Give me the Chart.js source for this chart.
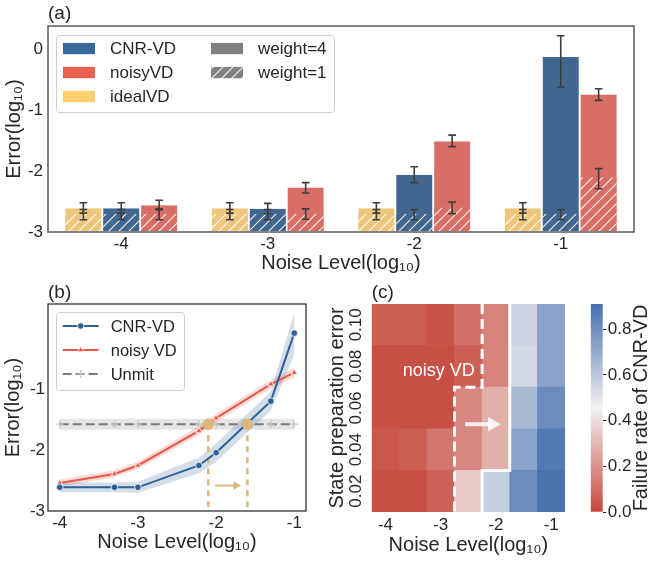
<!DOCTYPE html>
<html>
<head>
<meta charset="utf-8">
<script src="https://cdn.jsdelivr.net/npm/chart.js@4.4.1/dist/chart.umd.min.js"></script>
<style>
  body { margin: 0; background: #fff; width: 649px; height: 561px; position: relative; overflow: hidden; }
  canvas { position: absolute; }
</style>
</head>
<body>
<canvas id="barChart" width="649" height="280" style="left:0;top:0"></canvas>
<canvas id="lineChart" width="320" height="281" style="left:0;top:280px"></canvas>
<canvas id="heatChart" width="262" height="281" style="left:318px;top:280px"></canvas>
<canvas id="cbarChart" width="69" height="281" style="left:580px;top:280px"></canvas>
<script>
// ---- (a) bars: error at weight=4 (solid) and weight=1 (hatched) ----
const barGroups = ['-4', '-3', '-2', '-1'];
const idealW4 = [-2.61, -2.61, -2.61, -2.61];
const idealW1 = [-2.70, -2.70, -2.70, -2.70];
const cnrW4 = [-2.61, -2.62, -2.06, -0.13];
const cnrW1 = [-2.70, -2.70, -2.70, -2.70];
const noisyW4 = [-2.56, -2.27, -1.51, -0.745];
const noisyW1 = [-2.70, -2.70, -2.60, -2.10];
// error bar ranges [low, high]
const idealW4Err = [[-2.69, -2.52], [-2.69, -2.52], [-2.69, -2.52], [-2.69, -2.52]];
const idealW1Err = [[-2.80, -2.63], [-2.80, -2.63], [-2.80, -2.63], [-2.80, -2.63]];
const cnrW4Err = [[-2.69, -2.52], [-2.70, -2.53], [-2.19, -1.93], [-0.62, 0.22]];
const cnrW1Err = [[-2.80, -2.63], [-2.80, -2.63], [-2.80, -2.63], [-2.80, -2.63]];
const noisyW4Err = [[-2.64, -2.48], [-2.36, -2.19], [-1.60, -1.41], [-0.84, -0.65]];
const noisyW1Err = [[-2.80, -2.62], [-2.79, -2.62], [-2.70, -2.51], [-2.29, -1.96]];
const barYTicks = [-3, -2, -1, 0];

// ---- (b) lines ----
const noiseLog = [-4, -3.3, -3, -2.22, -2, -1.3, -1];
const cnrMean = [-2.61, -2.61, -2.61, -2.25, -2.04, -1.19, -0.07];
const cnrLow = [-2.69, -2.69, -2.70, -2.38, -2.19, -1.35, -0.42];
const cnrHigh = [-2.53, -2.53, -2.52, -2.12, -1.89, -1.03, 0.26];
const noisyMean = [-2.54, -2.39, -2.25, -1.68, -1.47, -0.91, -0.72];
const noisyLow = [-2.60, -2.45, -2.31, -1.75, -1.54, -0.98, -0.80];
const noisyHigh = [-2.48, -2.33, -2.19, -1.61, -1.40, -0.84, -0.64];
const unmitMean = [-1.57, -1.57, -1.57, -1.57, -1.57, -1.57, -1.57];
const unmitLow = [-1.66, -1.66, -1.66, -1.66, -1.66, -1.66, -1.66];
const unmitHigh = [-1.48, -1.48, -1.48, -1.48, -1.48, -1.48, -1.48];
const crossX = [-2.10, -1.60];
const crossY = -1.57;
const shiftArrowX = [-2.01, -1.745];
const shiftArrowY = -2.58;
const lineXTicks = [-4, -3, -2, -1];
const lineYTicks = [-3, -2, -1];

// ---- (c) heatmap: failure rate of CNR-VD ----
const heatCols = [-4, -3.5, -3, -2.5, -2, -1.5, -1];
const heatRows = [0.02, 0.04, 0.06, 0.08, 0.10];
const failRate = [
  [0.02, 0.02, 0.07, 0.35, 0.57, 0.81, 0.90],
  [0.04, 0.06, 0.12, 0.17, 0.28, 0.73, 0.87],
  [0.02, 0.02, 0.02, 0.17, 0.28, 0.65, 0.81],
  [0.02, 0.02, 0.02, 0.06, 0.16, 0.54, 0.73],
  [0.06, 0.06, 0.035, 0.11, 0.16, 0.555, 0.73]
];
const dashBorder = [[-2.25, 0.11], [-2.25, 0.07], [-2.75, 0.07], [-2.75, 0.01]];
const solidBorder = [[-1.75, 0.11], [-1.75, 0.03], [-2.25, 0.03], [-2.25, 0.01]];
const heatArrowX = [-2.56, -2.068];
const heatArrowY = 0.0522;
const heatXTicks = [-4, -3, -2, -1];
const cbarMax = 0.91;
const cbarTicks = [0, 0.2, 0.4, 0.6, 0.8];

const ink = '#262626';
const family = "'Liberation Sans', Arial, sans-serif";
Chart.defaults.font.family = family;
Chart.defaults.color = ink;

// red -> light gray -> blue
function cmap(v) {
  const lo = [198, 72, 60], mid = [242, 241, 241], hi = [69, 111, 174];
  let t = Math.max(0, Math.min(1, v / cbarMax));
  let a, b, s;
  if (t < 0.5) { a = lo; b = mid; s = t / 0.5; } else { a = mid; b = hi; s = (t - 0.5) / 0.5; }
  const c = a.map((x, i) => Math.round(x + (b[i] - x) * s));
  return `rgb(${c[0]},${c[1]},${c[2]})`;
}

function hatch(ctx, color) {
  const c = document.createElement('canvas');
  c.width = c.height = 10;
  const g = c.getContext('2d');
  g.fillStyle = color;
  g.fillRect(0, 0, 10, 10);
  g.strokeStyle = 'rgba(255,255,255,0.9)';
  g.lineWidth = 1.1;
  g.beginPath();
  g.moveTo(-1, 11); g.lineTo(11, -1);
  g.moveTo(-6, 6); g.lineTo(6, -6);
  g.moveTo(4, 16); g.lineTo(16, 4);
  g.stroke();
  return ctx.createPattern(c, 'repeat');
}

const frame = {
  id: 'frame',
  afterDatasetsDraw(chart, args, opts) {
    const {ctx, chartArea: a} = chart;
    ctx.save();
    ctx.strokeStyle = opts.color;
    ctx.lineWidth = opts.width;
    ctx.strokeRect(a.left, a.top, a.width, a.height);
    ctx.restore();
  }
};

const errorBars = {
  id: 'errorBars',
  afterDatasetsDraw(chart) {
    const {ctx} = chart;
    const y = chart.scales.y;
    ctx.save();
    ctx.strokeStyle = '#3d3d3d';
    ctx.lineWidth = 1.6;
    chart.data.datasets.forEach((ds, i) => {
      if (!ds.errors) return;
      chart.getDatasetMeta(i).data.forEach((bar, j) => {
        const yl = y.getPixelForValue(ds.errors[j][0]);
        const yh = y.getPixelForValue(ds.errors[j][1]);
        ctx.beginPath();
        ctx.moveTo(bar.x, yl); ctx.lineTo(bar.x, yh);
        ctx.moveTo(bar.x - 3.8, yl); ctx.lineTo(bar.x + 3.8, yl);
        ctx.moveTo(bar.x - 3.8, yh); ctx.lineTo(bar.x + 3.8, yh);
        ctx.stroke();
      });
    });
    ctx.restore();
  }
};

// legend box inside the plot area
const legendBox = {
  id: 'legendBox',
  afterDraw(chart, args, opts) {
    const {ctx, chartArea: a} = chart;
    const x0 = a.left + opts.left, y0 = a.top + opts.top;
    ctx.save();
    ctx.fillStyle = 'rgba(255,255,255,0.85)';
    ctx.strokeStyle = '#cfcfcf';
    ctx.lineWidth = 1;
    ctx.beginPath();
    ctx.roundRect(x0 + 0.5, y0 + 0.5, opts.width, opts.height, 3);
    ctx.fill();
    ctx.stroke();
    ctx.font = `${opts.fontSize}px ${family}`;
    ctx.textBaseline = 'middle';
    opts.items.forEach(it => {
      const x = x0 + it.col, y = y0 + it.row;
      ctx.save();
      it.symbol(ctx, x, y);
      ctx.restore();
      ctx.fillStyle = ink;
      ctx.fillText(it.label, x + opts.textGap, y + 1);
    });
    ctx.restore();
  }
};

// ================= (a) =================
const barCtx = document.getElementById('barChart').getContext('2d');
const barCol = {ideal: '#edc77c', cnr: '#41668f', noisy: '#d86f66'};
const legCol = {ideal: '#fdd06f', cnr: '#3a6a9a', noisy: '#e8604f'};

function barSet(stack, values, errors, color, hatched) {
  return {
    stack, errors,
    data: values.map(v => [-3, v]),
    backgroundColor: hatched ? hatch(barCtx, color) : color,
    borderColor: 'rgba(255,255,255,0.55)',
    borderWidth: 1
  };
}

function swatch(fill) {
  return (ctx, x, y) => { ctx.fillStyle = fill; ctx.fillRect(x, y - 5.6, 32, 11.3); };
}

new Chart(barCtx, {
  type: 'bar',
  data: {
    labels: barGroups,
    datasets: [
      barSet('ideal', idealW1, idealW1Err, barCol.ideal, true),
      barSet('cnr', cnrW1, cnrW1Err, barCol.cnr, true),
      barSet('noisy', noisyW1, noisyW1Err, barCol.noisy, true),
      barSet('ideal', idealW4, idealW4Err, barCol.ideal, false),
      barSet('cnr', cnrW4, cnrW4Err, barCol.cnr, false),
      barSet('noisy', noisyW4, noisyW4Err, barCol.noisy, false)
    ]
  },
  options: {
    responsive: false,
    animation: false,
    categoryPercentage: 0.776,
    barPercentage: 1,
    layout: {padding: {left: 0, right: 15, top: 0, bottom: 0}},
    plugins: {
      legend: {display: false},
      tooltip: {enabled: false},
      title: {display: true, text: '(a)', align: 'start', fullSize: false, color: ink,
        font: {size: 19, weight: 'normal', lineHeight: 1}, padding: {top: 4, bottom: 3}},
      frame: {color: '#5a5a5a', width: 1.5},
      legendBox: {
        left: 8, top: 9, width: 278, height: 77, fontSize: 17, textGap: 47,
        items: [
          {label: 'CNR-VD', col: 7, row: 13.5, symbol: swatch(legCol.cnr)},
          {label: 'noisyVD', col: 7, row: 37.5, symbol: swatch(legCol.noisy)},
          {label: 'idealVD', col: 7, row: 61.5, symbol: swatch(legCol.ideal)},
          {label: 'weight=4', col: 155, row: 13.5, symbol: swatch('#808080')},
          {label: 'weight=1', col: 155, row: 37.5, symbol: swatch(hatch(barCtx, '#808080'))}
        ]
      }
    },
    scales: {
      x: {
        stacked: true,
        grid: {display: false, drawTicks: false},
        border: {display: false},
        ticks: {font: {size: 17}, padding: 2},
        title: {display: true, text: 'Noise Level(log₁₀)', font: {size: 20}, padding: {top: 0, bottom: 5}},
        afterFit: s => { s.height = 48; }
      },
      y: {
        stacked: false,
        min: -3, max: 0.38,
        grid: {display: false, drawTicks: false},
        border: {display: false},
        afterBuildTicks: s => { s.ticks = barYTicks.map(v => ({value: v})); },
        ticks: {font: {size: 17}, padding: 5, callback: v => String(v)},
        title: {display: true, text: 'Error(log₁₀)', font: {size: 20}, padding: {top: 2, bottom: 0}},
        afterFit: s => { s.width = 48; }
      }
    }
  },
  plugins: [errorBars, frame, legendBox]
});

// ================= (b) =================
const blue = '#2f6095', red = '#e8584b', gray = '#7a7a7a', tan = '#ddb77a';
const pts = ys => noiseLog.map((x, i) => ({x, y: ys[i]}));
const band = (ys, fill, color) => ({
  data: pts(ys), fill, backgroundColor: color, borderWidth: 0, pointRadius: 0, order: 9
});

new Chart(document.getElementById('lineChart'), {
  type: 'line',
  data: {
    datasets: [
      band(cnrHigh, '+1', 'rgba(60,105,160,0.22)'),
      band(cnrLow, false, 'transparent'),
      band(noisyHigh, '+1', 'rgba(232,88,75,0.22)'),
      band(noisyLow, false, 'transparent'),
      band(unmitHigh, '+1', 'rgba(150,150,150,0.25)'),
      band(unmitLow, false, 'transparent'),
      {label: 'Unmit', data: pts(unmitMean), borderColor: gray, borderWidth: 2, borderDash: [9, 4],
        pointStyle: 'cross', pointRadius: 4, pointBorderColor: '#c6c6c6', pointBorderWidth: 1.2, order: 4},
      {label: 'noisy VD', data: pts(noisyMean), borderColor: red, borderWidth: 2,
        pointStyle: 'triangle', pointRadius: 3.6, pointBackgroundColor: red, pointBorderColor: '#fff',
        pointBorderWidth: 0.8, order: 3},
      {label: 'CNR-VD', data: pts(cnrMean), borderColor: blue, borderWidth: 2,
        pointStyle: 'circle', pointRadius: 3.3, pointBackgroundColor: blue, pointBorderColor: '#fff',
        pointBorderWidth: 0.8, order: 2},
      {data: crossX.map(x => ({x, y: crossY})), showLine: false, pointRadius: 5.6,
        pointBackgroundColor: tan, pointBorderWidth: 0, order: 0},
      {data: [{x: crossX[0], y: crossY}, {x: crossX[0], y: -3}], borderColor: tan, borderWidth: 2.5,
        borderDash: [6, 5], pointRadius: 0, order: 5},
      {data: [{x: crossX[1], y: crossY}, {x: crossX[1], y: -3}], borderColor: tan, borderWidth: 2.5,
        borderDash: [6, 5], pointRadius: 0, order: 5},
      {data: shiftArrowX.map(x => ({x, y: shiftArrowY})), borderColor: tan, borderWidth: 2,
        pointRadius: [0, 5], pointStyle: 'triangle', pointRotation: 90, pointBackgroundColor: tan,
        pointBorderWidth: 0, order: 5}
    ]
  },
  options: {
    responsive: false,
    animation: false,
    layout: {padding: {left: 0, right: 14, top: 0, bottom: 0}},
    plugins: {
      legend: {display: false},
      tooltip: {enabled: false},
      title: {display: true, text: '(b)', align: 'start', fullSize: false, color: ink,
        font: {size: 19, weight: 'normal', lineHeight: 1}, padding: {top: 3, bottom: 2}},
      frame: {color: '#222', width: 1.2},
      legendBox: {
        left: 8, top: 8, width: 128, height: 78, fontSize: 16.5, textGap: 48,
        items: [
          {label: 'CNR-VD', col: 6.7, row: 14, symbol: (ctx, x, y) => {
            ctx.strokeStyle = blue; ctx.lineWidth = 2;
            ctx.beginPath(); ctx.moveTo(x, y); ctx.lineTo(x + 36, y); ctx.stroke();
            ctx.fillStyle = blue; ctx.strokeStyle = '#fff'; ctx.lineWidth = 0.8;
            ctx.beginPath(); ctx.arc(x + 18, y, 3.2, 0, Math.PI * 2); ctx.fill(); ctx.stroke();
          }},
          {label: 'noisy VD', col: 6.7, row: 38, symbol: (ctx, x, y) => {
            ctx.strokeStyle = red; ctx.lineWidth = 2;
            ctx.beginPath(); ctx.moveTo(x, y); ctx.lineTo(x + 36, y); ctx.stroke();
            ctx.fillStyle = red; ctx.strokeStyle = '#fff'; ctx.lineWidth = 0.8;
            ctx.beginPath(); ctx.moveTo(x + 18, y - 3.5); ctx.lineTo(x + 21, y + 1.8);
            ctx.lineTo(x + 15, y + 1.8); ctx.closePath(); ctx.fill(); ctx.stroke();
          }},
          {label: 'Unmit', col: 6.7, row: 62, symbol: (ctx, x, y) => {
            ctx.strokeStyle = gray; ctx.lineWidth = 2; ctx.setLineDash([9, 4]);
            ctx.beginPath(); ctx.moveTo(x, y); ctx.lineTo(x + 36, y); ctx.stroke();
            ctx.setLineDash([]); ctx.strokeStyle = '#c6c6c6'; ctx.lineWidth = 1.2;
            ctx.beginPath(); ctx.moveTo(x + 14, y); ctx.lineTo(x + 22, y);
            ctx.moveTo(x + 18, y - 4); ctx.lineTo(x + 18, y + 4); ctx.stroke();
          }}
        ]
      }
    },
    scales: {
      x: {
        type: 'linear', min: -4.15, max: -0.85,
        grid: {display: false, drawTicks: false},
        border: {display: false},
        afterBuildTicks: s => { s.ticks = lineXTicks.map(v => ({value: v})); },
        ticks: {font: {size: 17}, padding: 2.5, callback: v => String(v)},
        title: {display: true, text: 'Noise Level(log₁₀)', font: {size: 20}, padding: {top: 0, bottom: 6.5}},
        afterFit: s => { s.height = 50; }
      },
      y: {
        min: -3, max: 0.41,
        grid: {display: false, drawTicks: false},
        border: {display: false},
        afterBuildTicks: s => { s.ticks = lineYTicks.map(v => ({value: v})); },
        ticks: {font: {size: 17}, padding: 3, callback: v => String(v)},
        title: {display: true, text: 'Error(log₁₀)', font: {size: 20}, padding: {top: 1, bottom: 0}},
        afterFit: s => { s.width = 48; }
      }
    }
  },
  plugins: [frame, legendBox]
});

// ================= (c) =================
const heatText = {
  id: 'heatText',
  afterDatasetsDraw(chart, args, opts) {
    const {ctx, scales: {x, y}} = chart;
    ctx.save();
    ctx.fillStyle = opts.color;
    ctx.font = `${opts.size}px ${family}`;
    ctx.textAlign = 'center';
    ctx.textBaseline = 'middle';
    ctx.fillText(opts.text, x.getPixelForValue(opts.x), y.getPixelForValue(opts.y));
    ctx.restore();
  }
};

const heatSets = heatRows.map((r, i) => ({
  type: 'bar',
  data: heatCols.map(c => ({x: c, y: [r - 0.01, r + 0.01]})),
  backgroundColor: failRate[i].map(cmap),
  borderWidth: 0,
  grouped: false,
  barPercentage: 1,
  categoryPercentage: 1,
  order: 2
}));
const toPts = path => path.map(p => ({x: p[0], y: p[1]}));

new Chart(document.getElementById('heatChart'), {
  type: 'bar',
  data: {
    datasets: [
      ...heatSets,
      {type: 'line', data: toPts(dashBorder), borderColor: '#fff', borderWidth: 3, borderDash: [10, 5],
        pointRadius: 0, order: 0},
      {type: 'line', data: toPts(solidBorder), borderColor: '#fff', borderWidth: 3,
        pointRadius: 0, order: 0},
      {type: 'line', data: heatArrowX.map(x => ({x, y: heatArrowY})), borderColor: 'rgba(255,255,255,0.85)',
        borderWidth: 4, pointRadius: [0, 8.5], pointStyle: 'triangle', pointRotation: 90,
        pointBackgroundColor: 'rgba(255,255,255,0.85)', pointBorderWidth: 0, order: 0}
    ]
  },
  options: {
    responsive: false,
    animation: false,
    layout: {padding: {left: 0, right: 15, top: 0, bottom: 0}},
    plugins: {
      legend: {display: false},
      tooltip: {enabled: false},
      title: {display: true, text: '(c)', align: 'start', fullSize: false, color: ink,
        font: {size: 19, weight: 'normal', lineHeight: 1}, padding: {top: 3, bottom: 2}},
      heatText: {text: 'noisy VD', x: -3.037, y: 0.0778, color: '#fff', size: 18}
    },
    scales: {
      x: {
        type: 'linear', min: -4.25, max: -0.75, offset: false,
        grid: {display: false, drawTicks: false},
        border: {display: false},
        afterBuildTicks: s => { s.ticks = heatXTicks.map(v => ({value: v})); },
        ticks: {font: {size: 17}, padding: 3, callback: v => String(v)},
        title: {display: true, text: 'Noise Level(log₁₀)', font: {size: 20}, padding: {top: 0, bottom: 4}},
        afterFit: s => { s.height = 49; }
      },
      y: {
        min: 0.01, max: 0.11,
        grid: {display: false, drawTicks: false},
        border: {display: false},
        afterBuildTicks: s => { s.ticks = heatRows.map(v => ({value: v})); },
        ticks: {font: {size: 17}, padding: -1.5, minRotation: 90, maxRotation: 90, crossAlign: 'center',
          autoSkip: false, callback: v => v.toFixed(2)},
        title: {display: true, text: 'State preparation error', font: {size: 20}, padding: {top: 7, bottom: 0}},
        afterFit: s => { s.width = 53.7; }
      }
    }
  },
  plugins: [heatText]
});

// ================= colorbar =================
const cbarTitle = {
  id: 'cbarTitle',
  afterDraw(chart, args, opts) {
    const {ctx, chartArea: a} = chart;
    ctx.save();
    ctx.translate(a.right + opts.offset, (a.top + a.bottom) / 2);
    ctx.rotate(-Math.PI / 2);
    ctx.fillStyle = ink;
    ctx.font = `${opts.size}px ${family}`;
    ctx.textAlign = 'center';
    ctx.textBaseline = 'middle';
    ctx.fillText(opts.text, 0, 0);
    ctx.restore();
  }
};

new Chart(document.getElementById('cbarChart'), {
  type: 'bar',
  data: {
    labels: [''],
    datasets: [{
      data: [[0, cbarMax]],
      borderWidth: 0,
      barPercentage: 1,
      categoryPercentage: 1,
      backgroundColor: c => {
        const chart = c.chart;
        if (!chart.chartArea) return 'transparent';
        const ys = chart.scales.y;
        const g = chart.ctx.createLinearGradient(0, ys.getPixelForValue(0), 0, ys.getPixelForValue(cbarMax));
        for (let k = 0; k <= 20; k++) g.addColorStop(k / 20, cmap(k / 20 * cbarMax));
        return g;
      }
    }]
  },
  options: {
    responsive: false,
    animation: false,
    layout: {padding: {left: 10.7, right: 0, top: 24, bottom: 49}},
    plugins: {
      legend: {display: false},
      tooltip: {enabled: false},
      cbarTitle: {text: 'Failure rate of CNR-VD', offset: 39, size: 20}
    },
    scales: {
      x: {display: false},
      y: {
        position: 'right',
        min: 0, max: cbarMax,
        grid: {display: true, drawOnChartArea: false, drawTicks: true, tickLength: 3.5, color: ink, lineWidth: 1},
        border: {display: false},
        afterBuildTicks: s => { s.ticks = cbarTicks.map(v => ({value: v})); },
        ticks: {font: {size: 17}, padding: 1.5, callback: v => v.toFixed(1)},
        afterFit: s => { s.width = 46.3; }
      }
    }
  },
  plugins: [cbarTitle]
});
</script>
</body>
</html>
